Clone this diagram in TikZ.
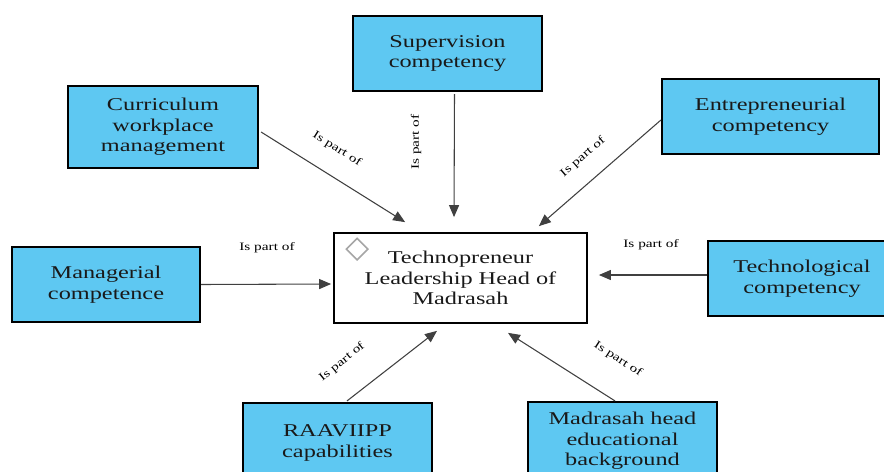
\documentclass[tikz,border=0pt]{standalone}
\usepackage{fontspec}
\setmainfont{Liberation Serif}[FakeStretch=1.35]
\usetikzlibrary{arrows.meta,calc,shapes.geometric}
\definecolor{compblue}{RGB}{94,200,242}
\tikzset{
  compbox/.style={draw=black, fill=compblue, line width=1.6pt, align=center, inner sep=2pt,
    text=black!90, font=\fontsize{13.5}{15.5}\selectfont},
  centrebox/.style={compbox, fill=white, line width=1.3pt},
  partof/.style={-{Triangle[length=9pt,width=7.5pt]}, draw=black!75, line width=0.8pt},
  partlbl/.style={font=\fontsize{8.5}{10}\selectfont, inner sep=0pt}
}
\begin{document}
\begin{tikzpicture}[x=0.75pt,y=-0.75pt]
                \useasboundingbox (0,0) rectangle (884,471);
                \clip (0,0) rectangle (884,471);
                % competency boxes
                \node[compbox, minimum width=141.75pt, minimum height=56.25pt] (superv) at (447.5,53.5) {Supervision\\competency};
                \node[compbox, minimum width=142.5pt,  minimum height=61.5pt]  (curric) at (163,127)    {Curriculum\\workplace\\management};
                \node[compbox, minimum width=162.75pt, minimum height=56.25pt] (entre)  at (770.5,116.5) {Entrepreneurial\\competency};
                \node[compbox, minimum width=141pt,    minimum height=56.25pt] (manag)  at (106,284.5)  {Managerial\\competence};
                \node[compbox, minimum width=141pt,    minimum height=56.25pt] (techn)  at (802,278.5)  {Technological\\competency};
                \node[compbox, minimum width=141.75pt, minimum height=60pt]    (raav)   at (337.5,443)  {RAAVIIPP\\capabilities};
                \node[compbox, minimum width=141.75pt, minimum height=58.5pt]  (madr)   at (622.5,441)  {Madrasah head\\educational\\background};
                % centre
                \node[centrebox, minimum width=189.75pt, minimum height=67.5pt] (tp) at (460.5,278) {Technopreneur\\Leadership Head of\\Madrasah};
                \node[diamond, draw=black!35, line width=1.2pt, minimum size=16.5pt, inner sep=0pt] (mark) at ($(tp.north west)+(24,17)$) {};
                % connectors
                \draw[partof] ($(curric.east)+(2,5)$)  -- ($(tp.north west)+(72,-10)$);
                \draw[partof] ($(superv.south)+(7,2)$) -- ($(tp.north)+(-6.5,-15)$);
                \draw[partof] ($(entre.west)+(0,3.5)$) -- ($(tp.north east)+(-49,-6)$);
                \draw[partof] (manag.east)             -- ($(tp.west)+(-2,6)$);
                \draw[partof] ($(techn.west)+(0,-3.5)$) -- ($(tp.east)+(11,-3)$);
                \draw[partof] ($(raav.north)+(9.5,-1)$) -- ($(tp.south)+(-23.5,7)$);
                \draw[partof] ($(madr.north)+(-7.5,0)$) -- ($(tp.south)+(47.5,9)$);
                % labels
                \node[partlbl, rotate=-32] (lcurric) at (337,149) {Is part of};
                \node[partlbl, rotate=90]  (lsuperv) at (416,142) {Is part of};
                \node[partlbl, rotate=41]  (lentre)  at (583,157) {Is part of};
                \node[partlbl]             (lmanag)  at (267,248) {Is part of};
                \node[partlbl]             (ltechn)  at (651,245) {Is part of};
                \node[partlbl, rotate=39]  (lraav)   at (342,362) {Is part of};
                \node[partlbl, rotate=-33] (lmadr)   at (618,359) {Is part of};
\end{tikzpicture}
\end{document}
